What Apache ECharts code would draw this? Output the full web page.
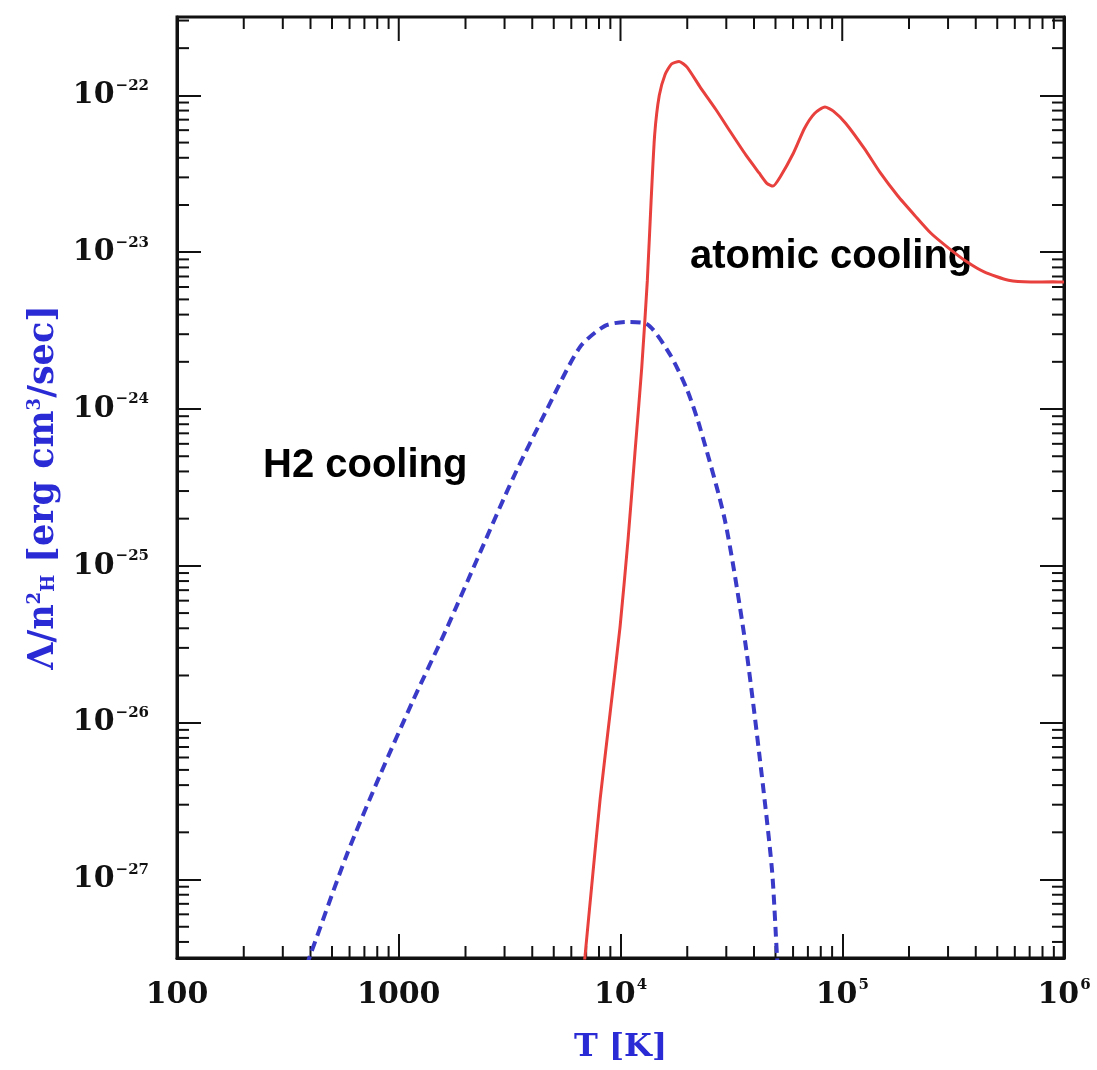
<!DOCTYPE html>
<html>
<head>
<meta charset="utf-8">
<title>Cooling functions</title>
<script src="https://cdn.jsdelivr.net/npm/echarts@6/dist/echarts.min.js"></script>
<style>
    html, body { margin: 0; padding: 0; background: #ffffff; }
    #chart { width: 1097px; height: 1070px; }
</style>
</head>
<body>
<div id="chart"></div>
<script>
    // atomic cooling curve (red, solid): T [K] and Lambda/nH^2
    var atomicT = [6.79e3, 6.92e3, 7.41e3, 8.09e3, 8.97e3, 9.95e3, 1.081e4, 1.161e4, 1.247e4, 1.321e4,
        1.374e4, 1.426e4, 1.496e4, 1.589e4, 1.698e4, 1.837e4, 1.995e4, 2.286e4, 2.692e4, 3.162e4,
        3.673e4, 4.217e4, 4.571e4, 4.870e4, 5.248e4, 6.026e4, 6.761e4, 7.499e4, 8.356e4, 9.120e4,
        1.038e5, 1.259e5, 1.486e5, 1.778e5, 2.128e5, 2.512e5, 3.048e5, 3.631e5, 4.365e5, 5.623e5,
        7.079e5, 8.913e5, 1.0e6];
    var atomicL = [2.51e-28, 3.26e-28, 9.02e-28, 3.23e-27, 1.14e-26, 4.06e-26, 1.46e-25, 5.20e-25, 1.84e-24, 6.56e-24,
        2.12e-23, 5.62e-23, 1.0e-22, 1.36e-22, 1.585e-22, 1.644e-22, 1.514e-22, 1.13e-22, 8.13e-23, 5.73e-23,
        4.17e-23, 3.20e-23, 2.75e-23, 2.64e-23, 3.02e-23, 4.29e-23, 6.17e-23, 7.66e-23, 8.43e-23, 7.94e-23,
        6.62e-23, 4.57e-23, 3.20e-23, 2.29e-23, 1.71e-23, 1.32e-23, 1.05e-23, 8.71e-24, 7.48e-24, 6.62e-24,
        6.46e-24, 6.47e-24, 6.46e-24];

    // H2 cooling curve (blue, dashed)
    var h2T = [3.84e2, 3.98e2, 5.82e2, 8.22e2, 1.164e3, 1.644e3, 2.323e3, 3.289e3, 4.645e3, 6.561e3,
        8.51e3, 1.067e4, 1.312e4, 1.671e4, 1.991e4, 2.286e4, 2.958e4, 3.639e4, 4.256e4, 4.819e4,
        5.08e4, 5.15e4];
    var h2L = [2.82e-28, 3.26e-28, 1.43e-27, 4.61e-27, 1.40e-26, 3.98e-26, 1.21e-25, 3.67e-25, 9.86e-25, 2.48e-24,
        3.39e-24, 3.59e-24, 3.49e-24, 2.23e-24, 1.34e-24, 7.57e-25, 1.95e-25, 3.37e-26, 5.79e-27, 1.16e-27,
        3.24e-28, 2.51e-28];

    // axis ranges and tick labels
    var xMin = 100, xMax = 1e6;
    var yMin = 3.16e-28, yMax = 3.16e-22;
    var xTickLabels = {2: '{b|100}', 3: '{b|1000}', 4: '{b|10}{s|4}', 5: '{b|10}{s|5}', 6: '{b|10}{s|6}'};
    var yTickLabels = {'-22': '{b|10}{s|−22}', '-23': '{b|10}{s|−23}', '-24': '{b|10}{s|−24}',
        '-25': '{b|10}{s|−25}', '-26': '{b|10}{s|−26}', '-27': '{b|10}{s|−27}'};

    // minor (2..9) ticks of each decade
    var xMinor = [];
    for (var k = 2; k < 6; k++) {
        for (var m = 2; m < 10; m++) xMinor.push([m * Math.pow(10, k), yMin]);
    }
    var yMinor = [];
    for (var k = -28; k < -21; k++) {
        for (var m = 2; m < 10; m++) {
            var v = m * Math.pow(10, k);
            if (v > yMin && v < yMax) yMinor.push([xMin, v]);
        }
    }
    // decades, for the ticks of the top frame
    var xMajor = [[1e3, yMin], [1e4, yMin], [1e5, yMin]];

    function zip(a, b) {
        return a.map(function (v, i) { return [v, b[i]]; });
    }

    function expOf(v) {
        var e = Math.log10(v);
        if (Math.abs(e - Math.round(e)) > 1e-6) return null;
        return Math.round(e);
    }

    var tickFont = 'DejaVu Serif';
    var labelRich = {
        b: {fontSize: 30, fontWeight: 'bold', fontFamily: tickFont, color: '#111', lineHeight: 34},
        s: {fontSize: 15, fontWeight: 'bold', fontFamily: tickFont, color: '#111', verticalAlign: 'top', lineHeight: 34, padding: [0, 0, 12, 1]}
    };
    var titleBlue = '#2b2bd6';
    var titleRich = {
        b: {fontSize: 35, fontWeight: 'bold', fontFamily: tickFont, color: titleBlue},
        s: {fontSize: 18, fontWeight: 'bold', fontFamily: tickFont, color: titleBlue, padding: [0, 0, 16, 0]},
        h: {fontSize: 18, fontWeight: 'bold', fontFamily: tickFont, color: titleBlue, padding: [12, 0, 0, 0]}
    };
    var tickStyle = {stroke: '#111', lineWidth: 2};

    function xTicks(len, both) {
        return function (params, api) {
            var cs = params.coordSys;
            var x = api.coord([api.value(0), yMin])[0];
            var b = cs.y + cs.height;
            var kids = [{type: 'line', shape: {x1: x, y1: cs.y, x2: x, y2: cs.y + len}, style: tickStyle}];
            if (both) kids.push({type: 'line', shape: {x1: x, y1: b, x2: x, y2: b - len}, style: tickStyle});
            return {type: 'group', children: kids};
        };
    }

    function minorYTicks(params, api) {
        var cs = params.coordSys;
        var y = api.coord([xMin, api.value(1)])[1];
        var r = cs.x + cs.width;
        return {type: 'group', children: [
            {type: 'line', shape: {x1: cs.x, y1: y, x2: cs.x + 12, y2: y}, style: tickStyle},
            {type: 'line', shape: {x1: r, y1: y, x2: r - 12, y2: y}, style: tickStyle}
        ]};
    }

    var frameLine = {show: true, onZero: false, lineStyle: {color: '#111', width: 3}};
    var majorTick = {show: true, inside: true, length: 24, lineStyle: {color: '#111', width: 2}};

    var chart = echarts.init(document.getElementById('chart'));
    chart.setOption({
        backgroundColor: '#ffffff',
        animation: false,
        grid: {left: 177, right: 33, top: 17, bottom: 112, containLabel: false, outerBoundsMode: 'none',
            show: true, borderColor: '#111', borderWidth: 3, backgroundColor: 'transparent'},
        xAxis: [{
            type: 'log',
            min: xMin,
            max: xMax,
            position: 'bottom',
            axisLine: frameLine,
            axisTick: majorTick,
            splitLine: {show: false},
            axisLabel: {
                margin: 20,
                rich: labelRich,
                formatter: function (v) {
                    var e = expOf(v);
                    return e === null ? '' : (xTickLabels[e] || '');
                }
            },
            name: 'T [K]',
            nameLocation: 'middle',
            nameGap: 74,
            nameMoveOverlap: false,
            nameTextStyle: {fontSize: 32, fontWeight: 'bold', fontFamily: tickFont, color: titleBlue}
        }],
        yAxis: [{
            type: 'log',
            min: yMin,
            max: yMax,
            position: 'left',
            axisLine: frameLine,
            axisTick: majorTick,
            splitLine: {show: false},
            axisLabel: {
                margin: 28,
                rich: labelRich,
                formatter: function (v) {
                    var e = expOf(v);
                    return e === null ? '' : (yTickLabels[String(e)] || '');
                }
            },
            name: '{b|Λ/n}{s|2}{h|H}{b| [erg cm}{s|3}{b|/sec]}',
            nameLocation: 'middle',
            nameRotate: 90,
            nameGap: 116,
            nameMoveOverlap: false,
            nameTextStyle: {rich: titleRich}
        }, {
            type: 'log',
            min: yMin,
            max: yMax,
            position: 'right',
            axisLine: frameLine,
            axisTick: majorTick,
            axisLabel: {show: false},
            splitLine: {show: false}
        }],
        graphic: [{
            type: 'text',
            left: 263,
            top: 446,
            style: {text: 'H2 cooling', fontSize: 40, fontWeight: 'bold', fontFamily: 'Liberation Sans', fill: '#000'}
        }, {
            type: 'text',
            left: 690,
            top: 237,
            style: {text: 'atomic cooling', fontSize: 40, fontWeight: 'bold', fontFamily: 'Liberation Sans', fill: '#000'}
        }],
        series: [{
            name: 'H2 cooling',
            type: 'line',
            data: zip(h2T, h2L),
            showSymbol: false,
            smooth: 0.25,
            clip: true,
            lineStyle: {color: '#3a3ac8', width: 4, type: [10, 6]}
        }, {
            name: 'atomic cooling',
            type: 'line',
            data: zip(atomicT, atomicL),
            showSymbol: false,
            smooth: 0.2,
            clip: true,
            lineStyle: {color: '#e8403c', width: 3}
        }, {
            type: 'custom',
            silent: true,
            clip: false,
            data: xMinor,
            renderItem: xTicks(12, true)
        }, {
            type: 'custom',
            silent: true,
            clip: false,
            data: xMajor,
            renderItem: xTicks(24, false)
        }, {
            type: 'custom',
            silent: true,
            clip: false,
            data: yMinor,
            renderItem: minorYTicks
        }]
    });
</script>
</body>
</html>
